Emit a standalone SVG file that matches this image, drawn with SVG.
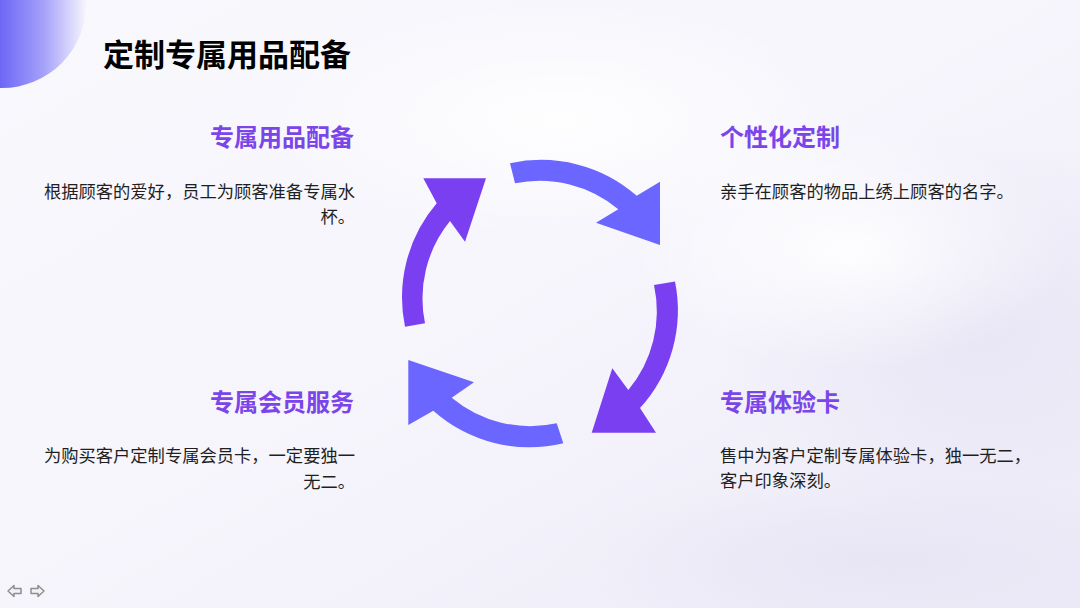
<svg xmlns="http://www.w3.org/2000/svg" width="1080" height="608" viewBox="0 0 1080 608">
  <defs>
    <linearGradient id="bg" x1="0" y1="0" x2="1" y2="1">
      <stop offset="0" stop-color="#F8F8FD"/>
      <stop offset="0.5" stop-color="#F6F5FC"/>
      <stop offset="1" stop-color="#ECEAF7"/>
    </linearGradient>
    <radialGradient id="glow1" cx="0.5" cy="0.5" r="0.5">
      <stop offset="0" stop-color="#E6E3F4" stop-opacity="0.8"/>
      <stop offset="1" stop-color="#E6E3F4" stop-opacity="0"/>
    </radialGradient>
    <radialGradient id="glow2" cx="0.5" cy="0.5" r="0.5">
      <stop offset="0" stop-color="#FFFFFF" stop-opacity="0.9"/>
      <stop offset="1" stop-color="#FFFFFF" stop-opacity="0"/>
    </radialGradient>
    <linearGradient id="corner" gradientUnits="userSpaceOnUse" x1="0" y1="0" x2="86" y2="0">
      <stop offset="0" stop-color="#6D67F5"/>
      <stop offset="0.5" stop-color="#A4A0F9"/>
      <stop offset="1" stop-color="#F6F5FE"/>
    </linearGradient>
    <style>
      .title { font-family: "Noto Sans CJK SC", "Noto Sans", sans-serif; font-weight: 700; font-size: 31px; fill: #000000; }
      .head { font-family: "Noto Sans CJK SC", "Noto Sans", sans-serif; font-weight: 700; font-size: 24px; fill: #7B45EA; }
      .body { font-family: "Noto Sans CJK SC", "Noto Sans", sans-serif; font-size: 17.3px; fill: #1F1F1F; }
      .blue { fill: #6A66FF; }
      .purple { fill: #7B3FF2; }
      .nav { fill: #F2F2F4; stroke: #8E8E8E; stroke-width: 1.5; stroke-linejoin: round; }
    </style>
  </defs>

  <rect x="0" y="0" width="1080" height="608" fill="url(#bg)"/>
  <ellipse cx="980" cy="330" rx="260" ry="200" fill="url(#glow1)"/>
  <ellipse cx="880" cy="560" rx="320" ry="90" fill="url(#glow1)"/>
  <ellipse cx="560" cy="120" rx="300" ry="120" fill="url(#glow2)"/>
  <ellipse cx="850" cy="250" rx="220" ry="120" fill="url(#glow2)"/>

  <circle cx="2" cy="4" r="84" fill="url(#corner)"/>

  <g id="title">
    <text class="title" x="103" y="65.5">定制专属用品配备</text>
  </g>

  <g id="connectors">
    <path class="blue" d="M510,163.3 A145,145 0 0 1 636.7,195.7 L660,181.7 L660,245 L596,222.7 L618.3,209.3 A123,123 0 0 0 515,183.3 Z"/>
    <path class="purple" d="M675,281.5 A145,145 0 0 1 640,408 L656,432.7 L591.7,432.7 L612.3,368.3 L628.3,390 A123,123 0 0 0 654,285 Z"/>
    <path class="blue" d="M563.3,443.3 A145,145 0 0 1 433.3,410.7 L408.3,425 L408.3,360 L474,382.3 L451.7,397.7 A123,123 0 0 0 556.7,423.3 Z"/>
    <path class="purple" d="M405,326.7 A145,145 0 0 1 436.7,203.3 L423.3,178.3 L486,178.3 L465,241.7 L450,221 A123,123 0 0 0 425,323.3 Z"/>
  </g>

  <g id="node-top-left">
    <text class="head" x="354" y="146" text-anchor="end">专属用品配备</text>
    <text class="body" x="355" y="197.6" text-anchor="end">根据顾客的爱好，员工为顾客准备专属水</text>
    <text class="body" x="355" y="223" text-anchor="end">杯。</text>
  </g>

  <g id="node-top-right">
    <text class="head" x="720" y="145.5">个性化定制</text>
    <text class="body" x="720" y="198">亲手在顾客的物品上绣上顾客的名字。</text>
  </g>

  <g id="node-bottom-left">
    <text class="head" x="354" y="410.5" text-anchor="end">专属会员服务</text>
    <text class="body" x="355" y="461.6" text-anchor="end">为购买客户定制专属会员卡，一定要独一</text>
    <text class="body" x="355" y="488" text-anchor="end">无二。</text>
  </g>

  <g id="node-bottom-right">
    <text class="head" x="720" y="410.5">专属体验卡</text>
    <text class="body" x="720" y="461.6">售中为客户定制专属体验卡，独一无二，</text>
    <text class="body" x="720" y="487">客户印象深刻。</text>
  </g>

  <g id="nav">
    <path class="nav" d="M8,591 L14,585.5 L14,588.5 L21,588.5 L21,593.5 L14,593.5 L14,596.5 Z"/>
    <path class="nav" d="M44,591 L38,585.5 L38,588.5 L31,588.5 L31,593.5 L38,593.5 L38,596.5 Z"/>
  </g>
</svg>
